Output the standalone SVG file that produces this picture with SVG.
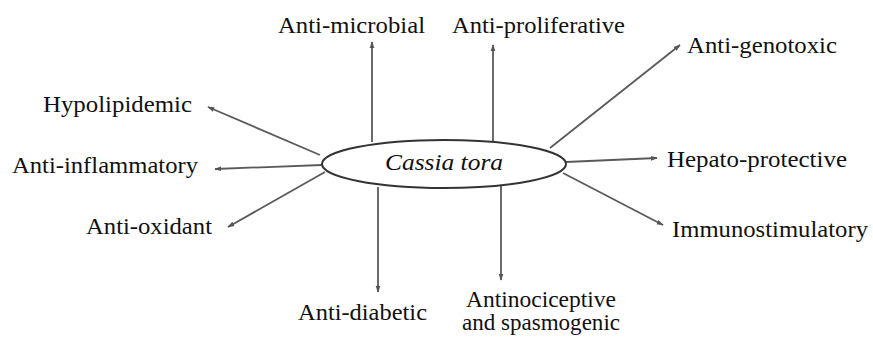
<svg xmlns="http://www.w3.org/2000/svg" width="873" height="340" viewBox="0 0 873 340">
<defs>
<marker id="ah" viewBox="0 0 10 10" refX="9" refY="5" markerWidth="7" markerHeight="7" orient="auto" markerUnits="userSpaceOnUse">
<path d="M0,1.5 L10,5 L0,8.5 Z" fill="#555"/>
</marker>
<style>
.t{font-family:"Times New Roman",Times,"Liberation Serif",serif;font-size:23px;fill:#111;}
.c{stroke:#5a5a5a;stroke-width:1.8;fill:none;}
</style>
</defs>
<rect width="873" height="340" fill="#fff"/>
<g id="connectors">
<line class="c" marker-end="url(#ah)" x1="372" y1="142" x2="372" y2="42"/>
<line class="c" marker-end="url(#ah)" x1="493" y1="141" x2="493" y2="45"/>
<line class="c" marker-end="url(#ah)" x1="320" y1="155" x2="208" y2="107"/>
<line class="c" marker-end="url(#ah)" x1="322" y1="165" x2="215" y2="169"/>
<line class="c" marker-end="url(#ah)" x1="325" y1="172" x2="228" y2="227"/>
<line class="c" marker-end="url(#ah)" x1="378" y1="187" x2="378" y2="292"/>
<line class="c" marker-end="url(#ah)" x1="501" y1="186" x2="501" y2="280"/>
<line class="c" marker-end="url(#ah)" x1="550" y1="148" x2="680" y2="45"/>
<line class="c" marker-end="url(#ah)" x1="566" y1="162" x2="657" y2="158"/>
<line class="c" marker-end="url(#ah)" x1="563" y1="173" x2="663" y2="225"/>
</g>
<g id="center">
<ellipse cx="444" cy="164" rx="122" ry="24" fill="#fff" stroke="#333" stroke-width="2"/>
<text class="t" x="385" y="170" font-style="italic" textLength="118" lengthAdjust="spacingAndGlyphs">Cassia tora</text>
</g>
<g id="n-antimicrobial"><text class="t" x="278" y="33" textLength="147" lengthAdjust="spacingAndGlyphs">Anti-microbial</text></g>
<g id="n-antiproliferative"><text class="t" x="452" y="33" textLength="173" lengthAdjust="spacingAndGlyphs">Anti-proliferative</text></g>
<g id="n-hypolipidemic"><text class="t" x="43" y="112" textLength="149" lengthAdjust="spacingAndGlyphs">Hypolipidemic</text></g>
<g id="n-antiinflammatory"><text class="t" x="12" y="173" textLength="186" lengthAdjust="spacingAndGlyphs">Anti-inflammatory</text></g>
<g id="n-antioxidant"><text class="t" x="86" y="234" textLength="126" lengthAdjust="spacingAndGlyphs">Anti-oxidant</text></g>
<g id="n-antidiabetic"><text class="t" x="298" y="320" textLength="129" lengthAdjust="spacingAndGlyphs">Anti-diabetic</text></g>
<g id="n-antinociceptive">
<text class="t" x="541" y="307" text-anchor="middle" textLength="150" lengthAdjust="spacingAndGlyphs">Antinociceptive</text>
<text class="t" x="541" y="330" text-anchor="middle" textLength="158" lengthAdjust="spacingAndGlyphs">and spasmogenic</text>
</g>
<g id="n-antigenotoxic"><text class="t" x="687" y="53" textLength="150" lengthAdjust="spacingAndGlyphs">Anti-genotoxic</text></g>
<g id="n-hepatoprotective"><text class="t" x="667" y="167" textLength="180" lengthAdjust="spacingAndGlyphs">Hepato-protective</text></g>
<g id="n-immunostimulatory"><text class="t" x="672" y="237" textLength="196" lengthAdjust="spacingAndGlyphs">Immunostimulatory</text></g>
</svg>
